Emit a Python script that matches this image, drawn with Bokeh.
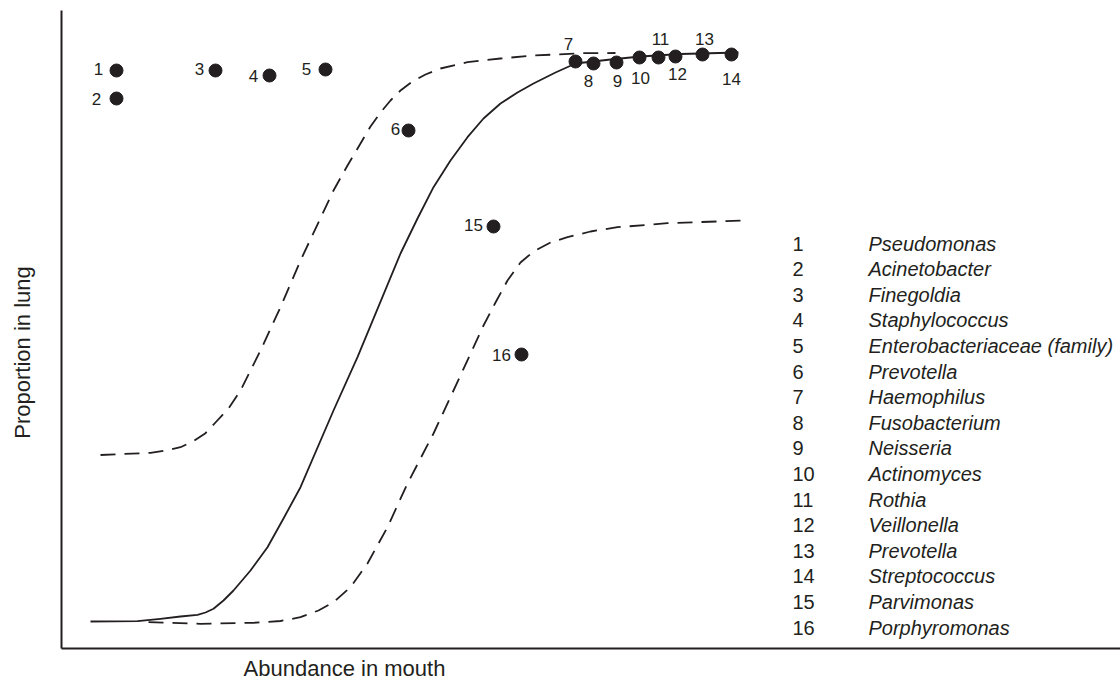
import math
from bokeh.plotting import figure
from bokeh.models import ColumnDataSource, Range1d
from bokeh.core.properties import value
from bokeh.embed import file_html
from bokeh.resources import INLINE

# ---------------- data ----------------
species_ids = [str(i) for i in range(1, 17)]
species_names = ["Pseudomonas", "Acinetobacter", "Finegoldia", "Staphylococcus",
                 "Enterobacteriaceae (family)", "Prevotella", "Haemophilus",
                 "Fusobacterium", "Neisseria", "Actinomyces", "Rothia", "Veillonella",
                 "Prevotella", "Streptococcus", "Parvimonas", "Porphyromonas"]
mouth_abundance = [5.5, 5.5, 15.4, 20.8, 26.4, 34.7, 51.4, 53.2, 55.5, 57.8,
                   59.7, 61.4, 64.1, 67.0, 43.2, 46.0]
lung_proportion = [57.8, 55.0, 57.8, 57.3, 57.9, 51.8, 58.7, 58.5, 58.6, 59.1,
                   59.1, 59.2, 59.4, 59.4, 42.2, 29.4]

# neutral-model fit (solid) and its upper / lower bounds (dashed)
fit_x = [2.9, 7.6, 9.9, 11.9, 13.6, 14.4, 15.2, 16.2, 17.2, 18.9, 20.6, 22.2, 23.9,
         27.2, 29.6, 33.9, 35.6, 37.2, 38.9, 40.6, 42.2, 43.9, 45.6, 47.2, 49.4,
         51.4, 54.9, 57.9, 61.9, 67.7]
fit_y = [2.7, 2.73, 2.97, 3.2, 3.37, 3.6, 3.97, 4.8, 5.8, 7.8, 10.13, 13.0, 16.13,
         23.8, 29.13, 39.5, 43.0, 46.13, 48.8, 51.13, 53.0, 54.5, 55.6, 56.5, 57.6,
         58.5, 58.9, 59.2, 59.45, 59.6]
upper_x = [3.9, 8.9, 10.4, 11.9, 13.2, 14.4, 15.4, 16.7, 17.9, 19.9, 21.9, 23.9,
           27.2, 28.6, 29.9, 30.9, 31.9, 32.9, 33.9, 35.1, 36.4, 37.9, 40.6, 43.9,
           47.2, 52.2, 55.4]
upper_y = [19.35, 19.57, 19.8, 20.13, 20.73, 21.53, 22.6, 24.0, 25.8, 29.8, 34.13,
           38.8, 45.8, 48.3, 50.5, 52.2, 53.6, 54.8, 55.8, 56.7, 57.4, 58.0, 58.63,
           59.0, 59.3, 59.53, 59.55]
lower_x = [8.7, 13.9, 19.2, 21.9, 23.9, 25.7, 27.2, 28.9, 30.6, 32.6, 34.6, 37.2,
           39.9, 42.2, 43.4, 44.6, 45.9, 47.2, 48.9, 50.6, 52.9, 55.6, 60.6, 68.4]
lower_y = [2.63, 2.47, 2.57, 2.75, 3.13, 3.8, 4.63, 6.13, 8.5, 12.13, 16.5, 21.5,
           27.3, 32.3, 34.6, 36.8, 38.6, 39.7, 40.6, 41.13, 41.7, 42.13, 42.53, 42.8]

x_title = "Abundance in mouth"
y_title = "Proportion in lung"

# ---------------- styling / placement ----------------
INK = "#231f20"
FONT = value("Liberation Sans")
# label offsets relative to each point (screen px)
label_dx = [-18, -20, -16, -16, -19, -13, -7, -5, 1, 1, 2, 2, 2, 0, -20, -20]
label_dy = [-2, 0, -2, 0, -1, -2, -18, 17, 18, 20, -19, 17, -16, 24, -2, 0]

X0, X1 = -6.1, 105.9
Y0, Y1 = -4.9, 64.8
AXIS_TOP = 63.8

p = figure(width=1120, height=697, output_backend="svg", toolbar_location=None,
           x_axis_type=None, y_axis_type=None,
           x_range=Range1d(X0, X1), y_range=Range1d(Y0, Y1),
           min_border_left=0, min_border_right=0, min_border_top=0,
           min_border_bottom=0, outline_line_color=None,
           background_fill_color="white", border_fill_color="white")

# axis lines (no ticks)
p.segment(x0=[0, 0], y0=[0, 0], x1=[0, X1], y1=[AXIS_TOP, 0],
          line_color=INK, line_width=2)

p.line(fit_x, fit_y, line_color=INK, line_width=1.8, line_join="round")
p.line(upper_x, upper_y, line_color=INK, line_width=1.8, line_dash="15 9",
       line_join="round")
p.line(lower_x, lower_y, line_color=INK, line_width=1.8, line_dash="15 9",
       line_join="round")

src = ColumnDataSource(dict(x=mouth_abundance, y=lung_proportion, lab=species_ids,
                            dx=label_dx, dy=label_dy))
p.scatter("x", "y", source=src, size=13, fill_color=INK, line_color=INK)
p.text("x", "y", text="lab", source=src, x_offset="dx", y_offset="dy",
       text_align="center", text_baseline="middle", text_font=FONT,
       text_font_size="17px", text_color=INK)

# key listing (numbers + italic genus names)
key_top = 40.5
key_step = 2.56
key_y = [key_top - i * key_step for i in range(len(species_ids))]
key_src = ColumnDataSource(dict(y=key_y, n=species_ids, name=species_names,
                                xn=[73.1] * len(key_y), xt=[80.7] * len(key_y)))
p.text("xn", "y", text="n", source=key_src, text_align="left", text_baseline="middle",
       text_font=FONT, text_font_size="20px", text_color=INK)
p.text("xt", "y", text="name", source=key_src, text_align="left", text_baseline="middle",
       text_font=FONT, text_font_size="20px", text_font_style="italic", text_color=INK)

# axis titles
p.text(x=[28.3], y=[-2.0], text=[x_title], text_align="center", text_baseline="middle",
       text_font=FONT, text_font_size="22px", text_color=INK)
p.text(x=[-3.9], y=[29.6], text=[y_title], angle=math.pi / 2, text_align="center",
       text_baseline="middle", text_font=FONT, text_font_size="22px", text_color=INK)

open("out.html", "w").write(file_html(p, INLINE))
